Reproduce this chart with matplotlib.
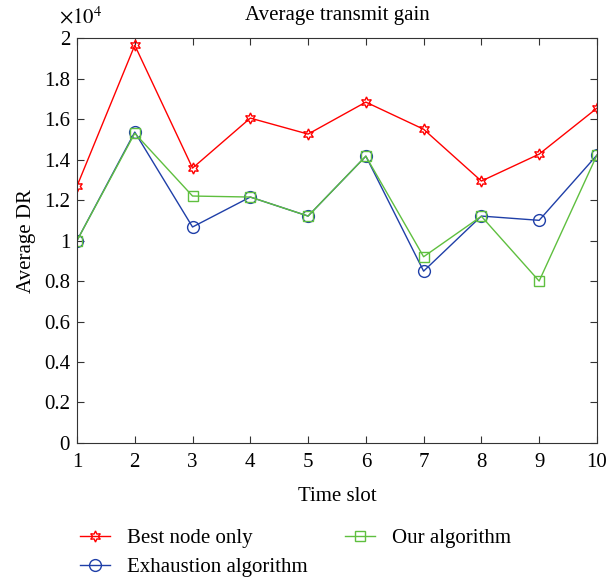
import matplotlib.pyplot as plt
from matplotlib.ticker import FuncFormatter

plt.rcParams['font.family'] = ['Liberation Serif', 'DejaVu Serif']
plt.rcParams['mathtext.fontset'] = 'stix'

slots = [1, 2, 3, 4, 5, 6, 7, 8, 9, 10]
best_node = [12690, 19650, 13580, 16050, 15260, 16840, 15500, 12940, 14270, 16540]
exhaustion = [10000, 15360, 10670, 12150, 11210, 14170, 8490, 11210, 11000, 14220]
our_alg = [10000, 15300, 12200, 12150, 11210, 14170, 9200, 11200, 8000, 14220]

fig = plt.figure(figsize=(6.16, 5.78), dpi=100)
ax = fig.add_axes([0.125, 0.2336, 0.844, 0.7004])

ax.plot(slots, best_node, color='#ff0000', lw=1, marker=(6, 1, 0), ms=8,
        mfc='none', mec='#ff0000', label='Best node only')
ax.plot(slots, exhaustion, color='#1f3fa8', lw=1, marker='o', ms=8.5,
        mfc='none', mec='#1f3fa8', label='Exhaustion algorithm')
ax.plot(slots, our_alg, color='#5fbf3f', lw=1, marker='s', ms=7,
        mfc='none', mec='#5fbf3f', label='Our algorithm')

ax.set_xlim(1, 10)
ax.set_ylim(0, 20000)
ax.set_xticks(slots)
ax.set_yticks(range(0, 20001, 2000))
ax.yaxis.set_major_formatter(FuncFormatter(lambda v, p: '%g' % (v / 1e4)))
ax.tick_params(direction='in', top=True, right=True, labelsize=15, length=5, color='#333333')
ax.tick_params(axis='x', pad=7)
ax.tick_params(axis='y', pad=5)
for s in ax.spines.values():
    s.set_color('#333333')

ax.set_title('Average transmit gain', fontsize=15, pad=13)
ax.set_xlabel('Time slot', fontsize=15, labelpad=11)
ax.set_ylabel('Average DR', fontsize=15, labelpad=6)
ax.text(-0.035, 1.025, r'$\times10^4$', transform=ax.transAxes, fontsize=15, va='bottom')

fig.legend(loc='upper left', bbox_to_anchor=(0.13, 0.085), ncol=2, frameon=False,
           fontsize=15, columnspacing=1.8, handlelength=1.45, handletextpad=0.8,
           labelspacing=0.45, borderpad=0, borderaxespad=0)

fig.savefig('out.png', dpi=100)
